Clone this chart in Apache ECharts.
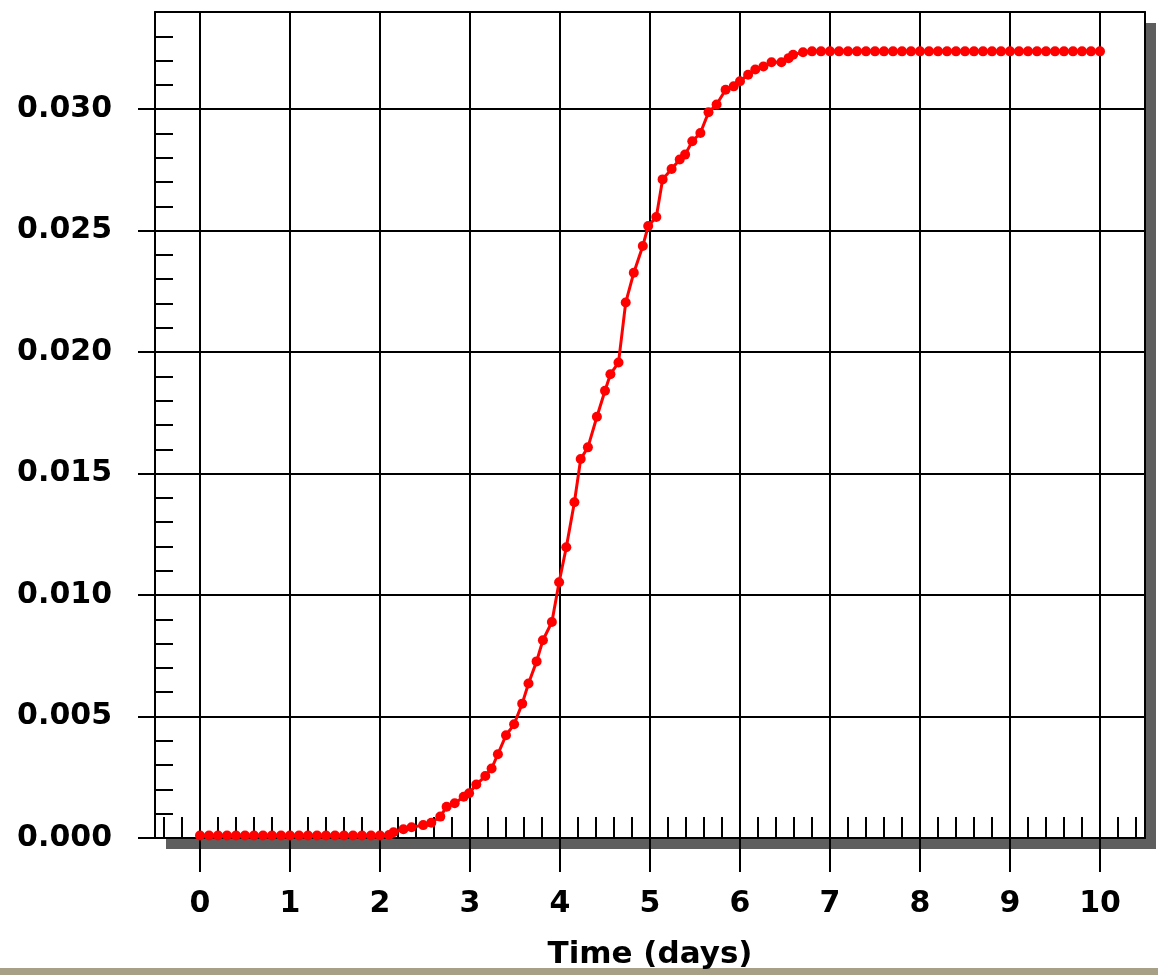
<!DOCTYPE html>
<html>
<head>
<meta charset="utf-8">
<script src="https://cdn.jsdelivr.net/npm/echarts@6/dist/echarts.min.js"></script>
<style>
html,body{margin:0;padding:0;background:#fff;}
#chart{width:1158px;height:975px;}
</style>
</head>
<body>
<div id="chart"></div>
<script>
// ---- data ----
const timeDays = [
  0.0, 0.1, 0.2, 0.3, 0.4, 0.5, 0.6, 0.7, 0.8, 0.9, 1.0,
  1.1, 1.2, 1.3, 1.4, 1.5, 1.6, 1.7, 1.8, 1.9, 2.0, 2.1,
  2.15, 2.26, 2.35, 2.48, 2.57, 2.67, 2.74, 2.83, 2.93, 2.99,
  3.07, 3.17, 3.24, 3.31, 3.40, 3.49, 3.58, 3.65, 3.74, 3.81, 3.91, 3.99,
  4.07, 4.16, 4.23, 4.31, 4.41, 4.50, 4.56, 4.65, 4.73, 4.82, 4.92, 4.98,
  5.07, 5.14, 5.24, 5.33, 5.39, 5.47, 5.56, 5.65, 5.74, 5.84, 5.93, 6.00,
  6.09, 6.17, 6.26, 6.35, 6.46, 6.54, 6.59, 6.70,
  6.8, 6.9, 7.0, 7.1, 7.2, 7.3, 7.4, 7.5, 7.6, 7.7, 7.8, 7.9, 8.0,
  8.1, 8.2, 8.3, 8.4, 8.5, 8.6, 8.7, 8.8, 8.9, 9.0,
  9.1, 9.2, 9.3, 9.4, 9.5, 9.6, 9.7, 9.8, 9.9, 10.0
];
const fraction = [
  0.0001, 0.0001, 0.0001, 0.0001, 0.0001, 0.0001, 0.0001, 0.0001, 0.0001, 0.0001, 0.0001,
  0.0001, 0.0001, 0.0001, 0.0001, 0.0001, 0.0001, 0.0001, 0.0001, 0.0001, 0.0001, 0.00012,
  0.00024, 0.00036, 0.00044, 0.00053, 0.00063, 0.00088, 0.00129, 0.00143, 0.00170, 0.00184,
  0.00220, 0.00255, 0.00286, 0.00345, 0.00423, 0.00468, 0.00553, 0.00636, 0.00727, 0.00814, 0.00889, 0.01053,
  0.01197, 0.01382, 0.01560, 0.01608, 0.01734, 0.01841, 0.01909, 0.01957, 0.02204, 0.02327, 0.02437, 0.02519,
  0.02556, 0.02711, 0.02754, 0.02793, 0.02813, 0.02868, 0.02902, 0.02987, 0.03019, 0.03080, 0.03094, 0.03115,
  0.03142, 0.03163, 0.03176, 0.03193, 0.03193, 0.03210, 0.03224, 0.03234,
  0.03238, 0.03238, 0.03238, 0.03238, 0.03238, 0.03238, 0.03238, 0.03238, 0.03238, 0.03238, 0.03238, 0.03238, 0.03238,
  0.03238, 0.03238, 0.03238, 0.03238, 0.03238, 0.03238, 0.03238, 0.03238, 0.03238, 0.03238,
  0.03238, 0.03238, 0.03238, 0.03238, 0.03238, 0.03238, 0.03238, 0.03238, 0.03238, 0.03238
];
const xMajorTicks = [0, 1, 2, 3, 4, 5, 6, 7, 8, 9, 10];
const yMajorTicks = [0, 0.005, 0.010, 0.015, 0.020, 0.025, 0.030];
const xMinorTicks = [];
for (let i = 0; i <= 54; i++) { xMinorTicks.push(Math.round((i * 0.2 - 0.4) * 10) / 10); }
const xTitle = 'Time (days)';

// ---- chart ----
const FONT = 'DejaVu Sans';
const labelStyle = { fontFamily: FONT, fontWeight: 'bold', fontSize: 30, color: '#000' };
const titleStyle = { fontFamily: FONT, fontWeight: 'bold', fontSize: 31, color: '#000' };
const frameLine = { color: '#000', width: 2 };
const chart = echarts.init(document.getElementById('chart'), null, { renderer: 'canvas' });
const points = timeDays.map((t, i) => [t, fraction[i]]);

chart.setOption({
  animation: false,
  backgroundColor: '#fff',
  grid: {
    left: 155, top: 12, right: 13, bottom: 137,
    show: true,
    backgroundColor: '#fff',
    borderColor: 'transparent',
    borderWidth: 0,
    shadowColor: '#5e5e5e',
    shadowBlur: 0,
    shadowOffsetX: 11,
    shadowOffsetY: 11
  },
  xAxis: [
    {
      type: 'value', min: -0.5, max: 10.5, position: 'bottom',
      name: xTitle, nameLocation: 'middle', nameGap: 101,
      nameTextStyle: titleStyle,
      axisLine: { show: true, onZero: false, lineStyle: frameLine },
      axisTick: { show: true, inside: false, length: 34, customValues: xMajorTicks, lineStyle: frameLine },
      axisLabel: Object.assign({ margin: 51, customValues: xMajorTicks, formatter: v => String(v) }, labelStyle),
      splitLine: { show: true, lineStyle: frameLine }
    },
    {
      type: 'value', min: -0.5, max: 10.5, position: 'bottom',
      axisLine: { show: false, onZero: false },
      axisTick: { show: true, inside: true, length: 21, customValues: xMinorTicks, lineStyle: frameLine },
      axisLabel: { show: false },
      splitLine: { show: false }
    },
    {
      type: 'value', min: -0.5, max: 10.5, position: 'top',
      axisLine: { show: true, onZero: false, lineStyle: frameLine },
      axisTick: { show: false }, axisLabel: { show: false }, splitLine: { show: false }
    }
  ],
  yAxis: [
    {
      type: 'value', min: 0, max: 0.034, position: 'left',
      axisLine: { show: true, onZero: false, lineStyle: frameLine },
      axisTick: { show: true, inside: false, length: 17, customValues: yMajorTicks, lineStyle: frameLine },
      axisLabel: Object.assign({ margin: 43, customValues: yMajorTicks, formatter: v => v.toFixed(3) }, labelStyle),
      splitLine: { show: true, lineStyle: frameLine }
    },
    {
      type: 'value', min: 0, max: 0.034, interval: 0.001, position: 'left',
      axisLine: { show: false, onZero: false },
      axisTick: { show: true, inside: true, length: 18, lineStyle: frameLine },
      axisLabel: { show: false },
      splitLine: { show: false }
    },
    {
      type: 'value', min: 0, max: 0.034, position: 'right',
      axisLine: { show: true, onZero: false, lineStyle: frameLine },
      axisTick: { show: false }, axisLabel: { show: false }, splitLine: { show: false }
    }
  ],
  series: [{
    type: 'line',
    xAxisIndex: 0, yAxisIndex: 0,
    data: points,
    symbol: 'circle',
    symbolSize: 10,
    showSymbol: true,
    itemStyle: { color: '#ff0000' },
    lineStyle: { color: '#ff0000', width: 3 },
    z: 10
  }],
  graphic: [{
    type: 'rect', left: 0, top: 968, shape: { width: 1158, height: 7 },
    style: { fill: '#a79f86' }, silent: true
  }]
});
</script>
</body>
</html>
